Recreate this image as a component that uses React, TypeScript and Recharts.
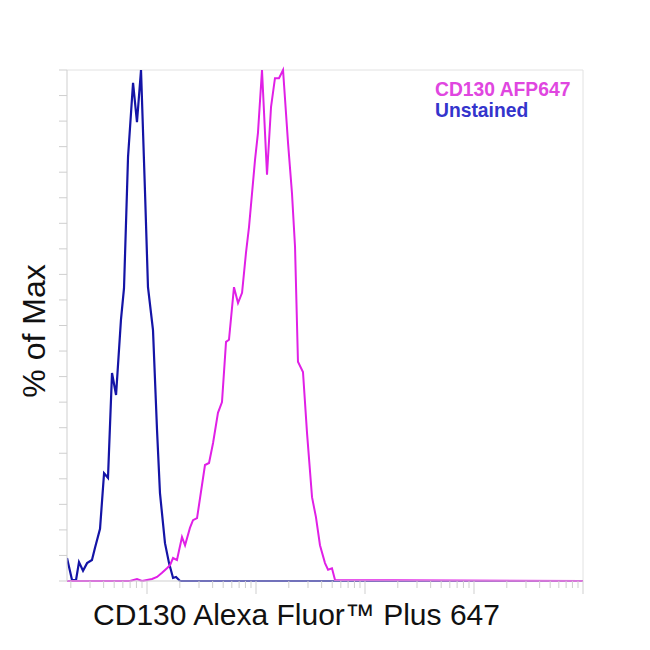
import React from "react";
import { LineChart, Line, XAxis, YAxis, ReferenceLine } from "recharts";

// x values are log10 of fluorescence intensity; y values are % of max
const unstainedX = [1.266, 1.312, 1.349, 1.376, 1.413, 1.45, 1.495, 1.523, 1.569, 1.606, 1.642, 1.679, 1.716, 1.761, 1.789, 1.826, 1.872, 1.908, 1.945, 1.982, 2.009, 2.055, 2.092, 2.119, 2.165, 2.202, 2.239, 2.266, 2.303, 6.0];
const unstainedY = [4.5, 0.2, 0.2, 3.7, 2.0, 3.5, 4.1, 6.5, 10.2, 21.1, 20.2, 40.7, 36.4, 51.1, 57.3, 83.0, 97.5, 89.8, 100, 75.9, 57.5, 49.1, 29.5, 17.2, 7.4, 3.5, 0.6, 0.8, 0, 0];

const stainedX = [1.266, 1.844, 1.908, 1.954, 2.0, 2.046, 2.092, 2.138, 2.183, 2.211, 2.239, 2.275, 2.321, 2.349, 2.394, 2.422, 2.459, 2.532, 2.569, 2.606, 2.651, 2.688, 2.725, 2.752, 2.798, 2.835, 2.872, 2.908, 2.936, 2.991, 3.018, 3.055, 3.101, 3.138, 3.174, 3.211, 3.248, 3.294, 3.33, 3.358, 3.385, 3.431, 3.468, 3.514, 3.55, 3.587, 3.633, 3.661, 3.697, 3.725, 6.0];
const stainedY = [0, 0, 0.4, 0, 0.2, 0.4, 0.8, 1.6, 2.5, 3.1, 4.5, 4.1, 8.6, 7.0, 10.4, 11.9, 12.3, 22.7, 23.1, 27.0, 32.9, 35.0, 46.8, 47.2, 57.5, 54.4, 56.4, 64.2, 69.3, 82.4, 87.7, 100, 79.5, 92.8, 98.4, 98.4, 100, 85.7, 75.9, 65.4, 42.9, 40.9, 29.0, 16.4, 12.5, 7.0, 3.5, 2.2, 2.5, 0.2, 0];

const seriesNames = ["CD130 AFP647", "Unstained"];
const xAxisTitle = "CD130 Alexa Fluor™ Plus 647";
const yAxisTitle = "% of Max";

const xDomain = [1.266, 6];
const decades = [1, 2, 3, 4, 5];
const yTicks = Array.from({ length: 21 }, (_, i) => i * 5);

const xTicks: number[] = [];
decades.forEach((d) => {
  for (let k = 1; k <= 9; k++) {
    const v = d + Math.log10(k);
    if (v >= xDomain[0] - 1e-9 && v <= xDomain[1]) xTicks.push(+v.toFixed(4));
  }
});
xTicks.push(6);

const unstainedData = unstainedX.map((x, i) => ({ x, y: unstainedY[i] }));
const stainedData = stainedX.map((x, i) => ({ x, y: stainedY[i] }));

const AXIS = "#cfcfcf";

const XTick = (props: any) => {
  const { x, y, payload } = props;
  const v = payload.value;
  const isMajor = Math.abs(v - Math.round(v)) < 1e-6;
  return <line x1={x} x2={x} y1={y} y2={y + (isMajor ? 13 : 7)} stroke={AXIS} strokeWidth={1} />;
};

const YTick = (props: any) => {
  const { x, y } = props;
  return <line x1={x - 8} x2={x} y1={y} y2={y} stroke={AXIS} strokeWidth={1} />;
};

export default function App() {
  const W = 634;
  const H = 634;
  return (
    <div style={{ position: "relative", width: W, height: H }}>
      <LineChart width={W} height={H} margin={{ top: 62, right: 59, left: 0, bottom: 31 }}>
        <XAxis
          dataKey="x"
          type="number"
          domain={xDomain}
          ticks={xTicks}
          interval={0}
          allowDataOverflow
          height={30}
          tickSize={0}
          tickMargin={0}
          tickLine={false}
          tick={XTick}
          axisLine={{ stroke: AXIS }}
        />
        <YAxis
          type="number"
          domain={[0, 100]}
          ticks={yTicks}
          interval={0}
          width={59}
          tickSize={0}
          tickMargin={0}
          tickLine={false}
          tick={YTick}
          axisLine={{ stroke: AXIS }}
        />
        <ReferenceLine y={100} stroke="#e2e2e2" />
        <ReferenceLine x={6} stroke="#e2e2e2" />
        <Line
          data={unstainedData}
          dataKey="y"
          name={seriesNames[1]}
          type="linear"
          stroke="#1414a6"
          strokeWidth={2.2}
          dot={false}
          isAnimationActive={false}
        />
        <Line
          data={stainedData}
          dataKey="y"
          name={seriesNames[0]}
          type="linear"
          stroke="#e020e6"
          strokeWidth={2}
          dot={false}
          isAnimationActive={false}
        />
      </LineChart>
      <svg
        width={W}
        height={H}
        style={{ position: "absolute", left: 0, top: 0, pointerEvents: "none" }}
        fontFamily="Arial, 'Liberation Sans', sans-serif"
      >
        <text x={427} y={88} fontSize={19.3} fontWeight="bold" fill="#e046e0">
          {seriesNames[0]}
        </text>
        <text x={427} y={109} fontSize={19.3} fontWeight="bold" fill="#3434cc">
          {seriesNames[1]}
        </text>
        <text x={288.5} y={617} fontSize={30} fill="#111" textAnchor="middle">
          {xAxisTitle}
        </text>
        <text x={37} y={323} fontSize={32} fill="#111" textAnchor="middle" transform="rotate(-90, 37, 323)">
          {yAxisTitle}
        </text>
      </svg>
    </div>
  );
}
